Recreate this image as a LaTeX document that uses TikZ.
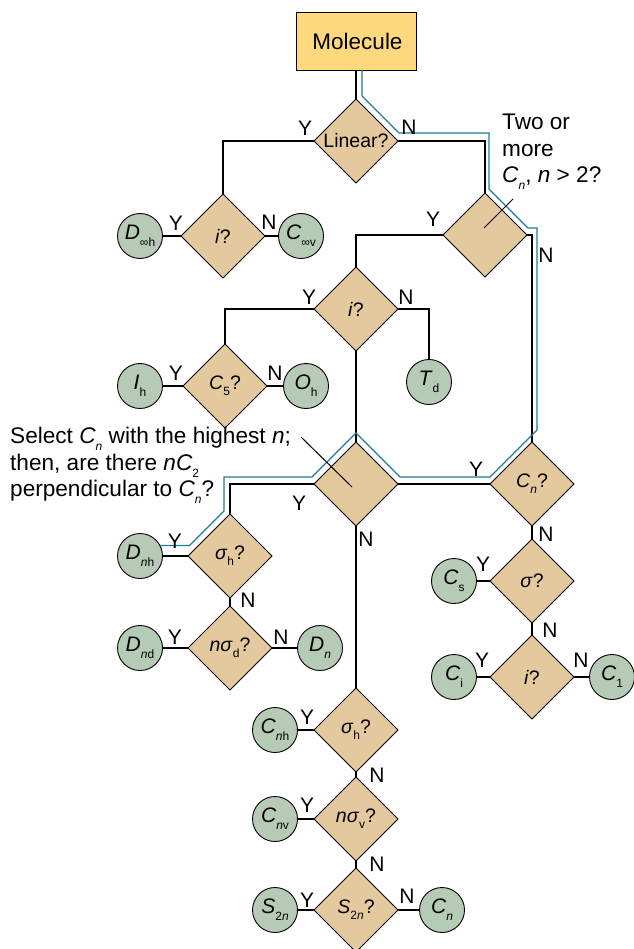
\documentclass[tikz,border=0pt]{standalone}
\usepackage{fontspec}
\setmainfont{Liberation Sans}
\usetikzlibrary{shapes.geometric,calc}
\definecolor{boxc}{RGB}{253,216,125}
\definecolor{tanq}{RGB}{229,201,158}
\definecolor{sage}{RGB}{181,203,181}
\definecolor{hl}{RGB}{32,122,156}
\newcommand\sbs[1]{\raisebox{-0.32em}{\fontsize{12}{12}\selectfont #1}}
\begin{document}
\begin{tikzpicture}[x=1pt,y=-1pt,
 q/.style={diamond, draw=black, line width=0.9pt, fill=tanq, minimum width=84pt, minimum height=84pt, inner sep=0pt, outer sep=0pt, aspect=1, font=\fontsize{19.5}{19.5}\selectfont},
 res/.style={circle, draw=black, line width=0.9pt, fill=sage, minimum size=45pt, inner sep=0pt, outer sep=0pt, font=\fontsize{21}{21}\selectfont},
 yn/.style={font=\fontsize{21}{21}\selectfont, inner sep=0pt},
 conn/.style={line width=1.2pt, draw=black},
 hlpath/.style={line width=1.2pt, draw=hl, line join=miter},
 note/.style={align=left, inner sep=0pt, anchor=north west, font=\fontsize{22.6}{26.5}\selectfont},
]
\useasboundingbox (0,0) rectangle (633,949);
% nodes
\node[draw=black, line width=0.9pt, fill=boxc, minimum width=120pt, minimum height=58pt, inner sep=0pt, outer sep=0pt, font=\fontsize{22.5}{22.5}\selectfont] (mol) at (356,41) {\hspace*{3pt}Molecule};
\node[q] (lin) at (356,141) {Linear?};
\node[q] (i1) at (223,236) {\textit{i}?};
\node[res] (dinfh) at (140,236) {\textit{D}\sbs{∞h}};
\node[res] (cinfv) at (301,236) {\textit{C}\sbs{∞v}};
\node[q] (two) at (485,235) {};
\node[q] (i2) at (356,309) {\textit{i}?};
\node[q] (c5) at (225,386) {\textit{C}\sbs{5}?};
\node[res] (ih) at (140,386) {\textit{I}\sbs{h}};
\node[res] (oh) at (306,386) {\textit{O}\sbs{h}};
\node[res] (td) at (429,382) {\textit{T}\sbs{d}};
\node[q] (sel) at (356,484) {};
\node[q] (cn) at (532,484) {\textit{C}\sbs{\textit{n}}?};
\node[q] (sh1) at (230,556) {\textit{σ}\sbs{h}?};
\node[res] (dnh) at (140,556) {\textit{D}\sbs{\textit{n}h}};
\node[q] (nsd) at (230,648) {\textit{nσ}\sbs{d}?};
\node[res] (dnd) at (140,648) {\textit{D}\sbs{\textit{n}d}};
\node[res] (dn) at (320,648) {\textit{D}\sbs{\textit{n}}};
\node[q] (sig) at (532,581) {\textit{σ}?};
\node[res] (cs) at (454,581) {\textit{C}\sbs{s}};
\node[q] (i3) at (532,677) {\textit{i}?};
\node[res] (ci) at (454,677) {\textit{C}\sbs{i}};
\node[res] (c1) at (612,677) {\textit{C}\sbs{1}};
\node[q] (sh2) at (356,730) {\textit{σ}\sbs{h}?};
\node[res] (cnh) at (275,730) {\textit{C}\sbs{\textit{n}h}};
\node[q] (nsv) at (356,819) {\textit{nσ}\sbs{v}?};
\node[res] (cnv) at (275,819) {\textit{C}\sbs{\textit{n}v}};
\node[q] (s2n) at (356,910) {\textit{S}\sbs{2\textit{n}}?};
\node[res] (s2nc) at (275,910) {\textit{S}\sbs{2\textit{n}}};
\node[res] (cnc) at (442,910) {\textit{C}\sbs{\textit{n}}};
% connectors
\draw[conn] (mol.south) -- (lin.north);
\draw[conn] (lin.west) -| (i1.north);
\draw[conn] (lin.east) -| (two.north);
\draw[conn] (i1.west) -- (dinfh);
\draw[conn] (i1.east) -- (cinfv);
\draw[conn] (two.west) -| (i2.north);
\draw[conn] (two.east) -| (cn.north);
\draw[conn] (i2.west) -| (c5.north);
\draw[conn] (i2.east) -| (td.north);
\draw[conn] (c5.west) -- (ih);
\draw[conn] (c5.east) -- (oh);
\draw[conn] (i2.south) -- (sel.north);
\draw[conn] (sel.east) -- (cn.west);
\draw[conn] (sel.west) -| (sh1.north);
\draw[conn] (sel.south) -- (sh2.north);
\draw[conn] (sh1.west) -- (dnh);
\draw[conn] (sh1.south) -- (nsd.north);
\draw[conn] (nsd.west) -- (dnd);
\draw[conn] (nsd.east) -- (dn);
\draw[conn] (cn.south) -- (sig.north);
\draw[conn] (sig.west) -- (cs);
\draw[conn] (sig.south) -- (i3.north);
\draw[conn] (i3.west) -- (ci);
\draw[conn] (i3.east) -- (c1);
\draw[conn] (sh2.west) -- (cnh);
\draw[conn] (sh2.south) -- (nsv.north);
\draw[conn] (nsv.west) -- (cnv);
\draw[conn] (nsv.south) -- (s2n.north);
\draw[conn] (s2n.west) -- (s2nc);
\draw[conn] (s2n.east) -- (cnc);
% highlighted path
\draw[hlpath] ($(mol.south)+(6,0)$) -- (362,96) -- (399,133) -- (489,133) -- (489,189) -- (528,228) -- (537,228) -- (537,430) -- (490,477) -- (400,477) -- (356,433) -- (312,477) -- (224,477) -- (224,511) -- (189.5,545.5) -- (160,545.5);
% Y/N labels
\node[yn] (l1y) at (305,128) {Y};
\node[yn] (l1n) at (409,127) {N};
\node[yn] (i1y) at (176,223) {Y};
\node[yn] (i1n) at (269,222) {N};
\node[yn] (twy) at (433,219) {Y};
\node[yn] (twn) at (546,255) {N};
\node[yn] (i2y) at (309,297) {Y};
\node[yn] (i2n) at (406,297) {N};
\node[yn] (c5y) at (176,373) {Y};
\node[yn] (c5n) at (275,373) {N};
\node[yn] (sely) at (299,503) {Y};
\node[yn] (seln) at (366,539) {N};
\node[yn] (cny) at (476,469) {Y};
\node[yn] (cnn) at (546,534) {N};
\node[yn] (s1y) at (175,541) {Y};
\node[yn] (s1n) at (248,600) {N};
\node[yn] (ndy) at (175,637) {Y};
\node[yn] (ndn) at (281,637) {N};
\node[yn] (sgy) at (483,564) {Y};
\node[yn] (sgn) at (550,630) {N};
\node[yn] (i3y) at (482,660) {Y};
\node[yn] (i3n) at (581,660) {N};
\node[yn] (s2y) at (307,717) {Y};
\node[yn] (s2nn) at (377,775) {N};
\node[yn] (nvy) at (307,805) {Y};
\node[yn] (nvn) at (377,864) {N};
\node[yn] (sny) at (307,900) {Y};
\node[yn] (snn) at (407,896) {N};
% notes
\node[note] (twonote) at (502,114) {Two or\\more\\\textit{C}\sbs{\textit{n}}, \textit{n} > 2?};
\node[note] (selnote) at (10,427) {Select \textit{C}\sbs{\textit{n}} with the highest \textit{n};\\then, are there \textit{nC}\sbs{2}\\perpendicular to \textit{C}\sbs{\textit{n}}?};
\coordinate (twoptr) at (513,199);
\coordinate (selptr) at (301,437);
\draw[line width=1pt] (twoptr) -- ($(two.center)+(-1,-7)$);
\draw[line width=1pt] (selptr) -- ($(sel.center)+(-4,3)$);
\end{tikzpicture}
\end{document}
